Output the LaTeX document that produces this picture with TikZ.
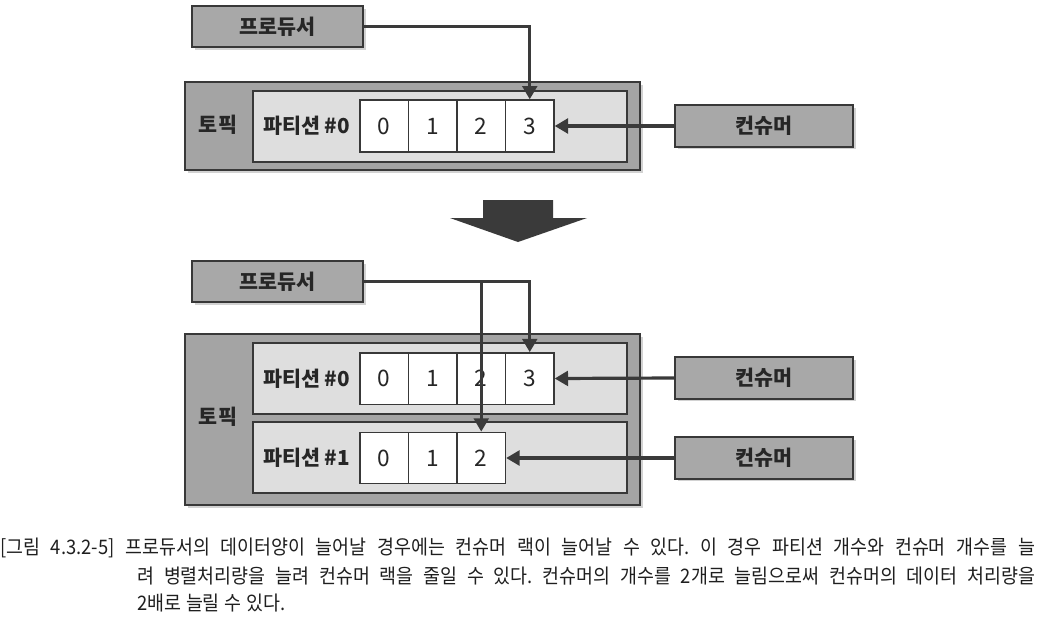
\documentclass[tikz,border=0pt]{standalone}
\usepackage{fontspec}
\setmainfont{Noto Sans CJK KR}
\newfontfamily\capfont[FakeStretch=0.92]{Noto Sans CJK KR}
\usetikzlibrary{arrows.meta,shadows}

\definecolor{boxline}{HTML}{383838}
\definecolor{boxgray}{HTML}{A8A8A8}
\definecolor{topicgray}{HTML}{A4A4A4}
\definecolor{partgray}{HTML}{DEDEDE}
\definecolor{arrowgray}{HTML}{3A3A3A}

% stretchable word spaces for the caption lines
\newcommand{\caprow}[2]{\spaceskip=0.3em plus 0.6em minus 0.1em\relax
    \hbox to #1{#2}}

\tikzset{
    softshadow/.style={drop shadow={opacity=0.35, shadow xshift=2pt, shadow yshift=-2pt}},
    rolebox/.style={draw=boxline, fill=boxgray, line width=1.5pt, inner sep=0pt,
        minimum width=128pt, minimum height=31pt, softshadow, text=black!85,
        font=\bfseries\fontsize{15.5}{17}\selectfont},
    topicbox/.style={draw=boxline, fill=topicgray, line width=1.5pt, inner sep=0pt,
        minimum width=341pt, softshadow},
    partbox/.style={draw=boxline, fill=partgray, line width=1.3pt, inner sep=0pt,
        minimum width=280.5pt, minimum height=53pt},
    cellbox/.style={draw=boxline, fill=white, line width=1pt, inner sep=0pt,
        minimum width=36.4pt, minimum height=38.5pt, text=black!85,
        font=\fontsize{17}{19}\selectfont},
    tag/.style={font=\bfseries\fontsize{15.5}{17}\selectfont, text=black!85},
    flow/.style={draw=arrowgray, line width=2.4pt, -{Triangle[length=10pt,width=11pt]}},
    capline/.style={anchor=west, inner sep=0pt, text=black!88,
        font=\capfont\fontsize{15}{17}\selectfont\frenchspacing},
}

\begin{document}
\begin{tikzpicture}[x=0.75pt, y=-0.75pt]
    \useasboundingbox (0,0) rectangle (1042,618);
    \fill[white] (0,0) rectangle (1042,618);

    % Before: one partition, one consumer
    \node[rolebox] (prodA) at (277.5,26.5) {프로듀서};
    \node[topicbox, minimum height=66pt] (topicA) at (412.5,126) {};
    \node[tag] (topicAlabel) at (218,125) {토픽};
    \node[partbox] (partA) at (440,126.5) {};
    \node[tag] (partAlabel) at (306.5,126) {파티션 \#0};
    \foreach \i in {0,...,3}
        \node[cellbox, minimum height=39pt] (a\i) at ({384.25+48.5*\i},126) {\i};
    \node[rolebox, minimum width=133.5pt] (consA) at (764,126) {컨슈머};
    \draw[flow] (prodA.east) -| (a3.north);
    \draw[flow] (consA.west) -- (a3.east);

    % Transition arrow
    \fill[arrowgray] (483,200) -- (553,200) -- (553,218) -- (587,218)
        -- (518,242) -- (450,218) -- (483,218) -- cycle;

    % After: two partitions, two consumers
    \node[rolebox] (prodB) at (277.5,281.5) {프로듀서};
    \node[topicbox, minimum height=128.25pt] (topicB) at (412.5,419.5) {};
    \node[tag] (topicBlabel) at (218,417) {토픽};
    \node[partbox] (partB) at (440,378.5) {};
    \node[partbox] (partC) at (440,457.5) {};
    \node[tag] (partBlabel) at (306.5,378.5) {파티션 \#0};
    \node[tag] (partClabel) at (306.5,457.5) {파티션 \#1};
    \foreach \i in {0,...,3}
        \node[cellbox] (b\i) at ({384.25+48.5*\i},378.5) {\i};
    \foreach \i in {0,...,2}
        \node[cellbox] (c\i) at ({384.25+48.5*\i},458) {\i};
    \node[rolebox, minimum width=133.5pt] (consB) at (764,378) {컨슈머};
    \node[rolebox, minimum width=133.5pt] (consC) at (764,458) {컨슈머};
    \draw[flow] (prodB.east) -| (b3.north);
    \draw[flow] (prodB.east) -| (c2.north);
    \draw[flow] (consB.west) -- (b3.east);
    \draw[flow] (consC.west) -- (c2.east);

    % Caption (justified lines, hanging indent)
    \node[capline] (cap1) at (0,548) {\caprow{776pt}{[그림 4.3.2-5] 프로듀서의 데이터양이 늘어날 경우에는 컨슈머 랙이 늘어날 수 있다. 이 경우 파티션 개수와 컨슈머 개수를 늘}};
    \node[capline] (cap2) at (137,576) {\caprow{673.5pt}{려 병렬처리량을 늘려 컨슈머 랙을 줄일 수 있다. 컨슈머의 개수를 2개로 늘림으로써 컨슈머의 데이터 처리량을}};
    \node[capline] (cap3) at (137,603) {\caprow{111pt}{2배로 늘릴 수 있다.}};
\end{tikzpicture}
\end{document}
